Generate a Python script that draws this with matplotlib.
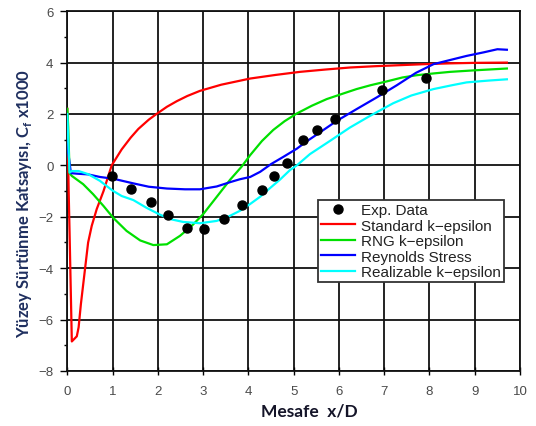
import numpy as np
import matplotlib.pyplot as plt
from matplotlib.ticker import MultipleLocator

# --- skin friction coefficient along the wall, Cf x1000 vs x/D ---
exp_x = [0.99, 1.40, 1.84, 2.22, 2.64, 3.03, 3.46, 3.87, 4.30, 4.56,
         4.86, 5.21, 5.51, 5.92, 6.95, 7.92]
exp_y = [-0.41, -0.90, -1.44, -1.93, -2.42, -2.46, -2.09, -1.55, -0.95, -0.41,
         0.08, 0.99, 1.38, 1.80, 2.95, 3.39]

std_x = [0.0, 0.03, 0.05, 0.10, 0.21, 0.25, 0.30, 0.39, 0.46, 0.54, 0.65,
         0.80, 0.98, 1.2, 1.4, 1.57, 1.8, 1.97, 2.2, 2.42, 2.65, 2.93, 3.4,
         4.04, 4.6, 5.14, 5.7, 6.25, 6.8, 7.35, 7.9, 8.45, 9.0, 9.71]
std_y = [2.2, -1.0, -2.6, -6.85, -6.65, -6.3, -5.4, -4.05, -3.0, -2.35, -1.70,
         -1.0, 0.0, 0.62, 1.08, 1.42, 1.78, 2.0, 2.28, 2.5, 2.7, 2.9, 3.14,
         3.38, 3.52, 3.64, 3.73, 3.81, 3.86, 3.9, 3.94, 3.97, 3.99, 4.0]

rng_x = [0.0, 0.02, 0.05, 0.10, 0.35, 0.57, 0.80, 1.02, 1.31, 1.61, 1.90,
         2.2, 2.49, 2.75, 3.0, 3.2, 3.4, 3.6, 3.85, 4.04, 4.3, 4.55, 4.8,
         5.07, 5.4, 5.73, 6.1, 6.39, 6.7, 7.06, 7.4, 7.72, 8.1, 8.46, 9.0, 9.71]
rng_y = [2.2, 1.5, -0.3, -0.41, -0.73, -1.12, -1.58, -2.05, -2.55, -2.92, -3.1,
         -3.07, -2.74, -2.35, -1.9, -1.45, -1.0, -0.55, -0.05, 0.4, 0.95, 1.38,
         1.72, 2.02, 2.32, 2.58, 2.8, 2.97, 3.12, 3.27, 3.42, 3.51, 3.58, 3.64,
         3.7, 3.77]

rsm_x = [0.0, 0.02, 0.08, 0.2, 0.46, 0.72, 1.02, 1.46, 1.8, 2.2, 2.6, 2.93,
         3.3, 3.6, 3.81, 4.04, 4.26, 4.5, 4.77, 5.07, 5.3, 5.51, 5.95, 6.39,
         6.83, 7.28, 7.7, 8.09, 8.5, 8.82, 9.2, 9.5, 9.71]
rsm_y = [1.0, 0.5, -0.3, -0.32, -0.35, -0.45, -0.52, -0.7, -0.83, -0.9, -0.93,
         -0.93, -0.82, -0.65, -0.54, -0.45, -0.25, 0.05, 0.33, 0.65, 0.95, 1.2,
         1.73, 2.19, 2.64, 3.12, 3.6, 3.94, 4.12, 4.26, 4.4, 4.52, 4.5]

rlz_x = [0.0, 0.02, 0.05, 0.1, 0.25, 0.46, 0.72, 1.0, 1.2, 1.46, 1.75, 2.05,
         2.3, 2.56, 2.93, 3.3, 3.55, 3.81, 4.04, 4.26, 4.48, 4.7, 4.92, 5.07,
         5.36, 5.8, 6.24, 6.69, 7.2, 7.6, 8.09, 8.5, 8.82, 9.3, 9.71]
rlz_y = [2.0, 1.0, -0.28, -0.22, -0.22, -0.34, -0.6, -0.98, -1.19, -1.35, -1.65,
         -1.92, -2.1, -2.2, -2.25, -2.16, -2.0, -1.77, -1.5, -1.22, -0.88, -0.55,
         -0.18, 0.0, 0.44, 0.95, 1.47, 1.93, 2.42, 2.72, 2.97, 3.12, 3.23, 3.3,
         3.35]

W, H = 536, 427
fig = plt.figure(figsize=(W / 100, H / 100), dpi=100)
ax = fig.add_axes([67.3 / W, 1 - 372 / H, (520 - 67.3) / W, (372 - 12.2) / H])

ax.plot(std_x, std_y, color='#ff0000', lw=1.6, label='Standard k\u2212epsilon', zorder=3)
ax.plot(rng_x, rng_y, color='#00e000', lw=1.6, label='RNG k\u2212epsilon', zorder=3)
ax.plot(rsm_x, rsm_y, color='#0000ff', lw=1.6, label='Reynolds Stress', zorder=3)
ax.plot(rlz_x, rlz_y, color='#00ffff', lw=1.6, label='Realizable k\u2212epsilon', zorder=3)
ax.plot(exp_x, exp_y, 'o', color='black', ms=6.5, label='Exp. Data', zorder=4)

ax.set_xlim(0, 10)
ax.set_ylim(-8, 6)
ax.xaxis.set_major_locator(MultipleLocator(1))
ax.yaxis.set_major_locator(MultipleLocator(2))
ax.yaxis.set_minor_locator(MultipleLocator(1))
ax.grid(True, which='major', color='#111111', lw=1.3)
ax.set_axisbelow(True)
for s in ax.spines.values():
    s.set_color('#111111')
    s.set_linewidth(1.3)

ax.tick_params(axis='y', which='major', direction='out', length=5, width=1,
               pad=5, labelsize=9.5, labelcolor='#4a4a4a')
ax.tick_params(axis='y', which='minor', direction='out', length=2.2, width=1)
ax.tick_params(axis='x', which='major', direction='inout', length=6, width=1,
               pad=7, labelsize=9.5, labelcolor='#4a4a4a')
for lab in ax.get_xticklabels() + ax.get_yticklabels():
    lab.set_family('Liberation Sans')

handles, labels = ax.get_legend_handles_labels()
order = [4, 0, 1, 2, 3]
leg = ax.legend([handles[i] for i in order], [labels[i] for i in order],
                loc='upper left', bbox_to_anchor=(318.3 / W, 1 - 201 / H),
                bbox_transform=fig.transFigure, borderaxespad=0,
                prop={'family': 'Liberation Sans', 'size': 11},
                labelspacing=0.1, handlelength=2.2, handletextpad=0.4,
                borderpad=0.2, fancybox=False, framealpha=1, edgecolor='#333333')
leg.get_frame().set_linewidth(1.3)
for t in leg.get_texts():
    t.set_color('#222222')

fig.text(25 / W, 1 - 203 / H, 'Yüzey Sürtünme Katsayısı, C$_\\mathregular{f}$ x1000',
         rotation=90, ha='center', va='center', family='Lato', fontweight='bold',
         fontsize=12, color='#1f2f5f')
fig.text(309 / W, 1 - 412 / H, 'Mesafe  x/D', ha='center', va='center',
         family='Lato', fontweight='bold', fontsize=12.5, color='#141428')

fig.savefig('out.png', dpi=100)
